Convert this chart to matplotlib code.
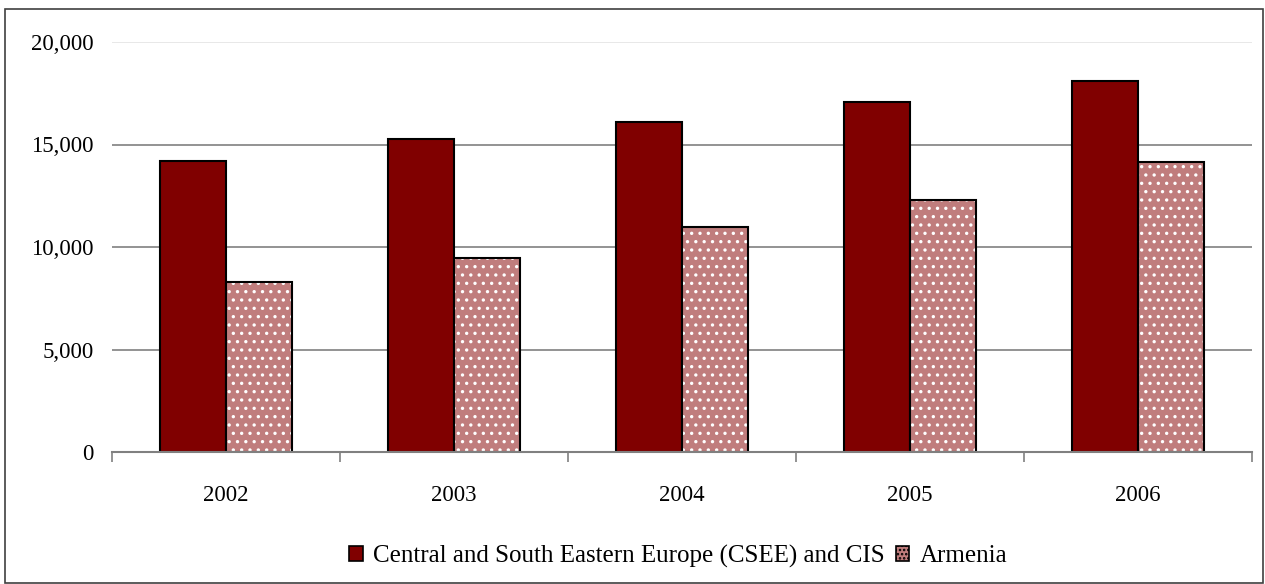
import matplotlib.pyplot as plt
import numpy as np
from matplotlib.patches import Rectangle, Patch

plt.rcParams['font.family'] = ['Liberation Serif', 'DejaVu Serif']
plt.rcParams['hatch.color'] = 'white'
plt.rcParams['hatch.linewidth'] = 1.2

years = ['2002', '2003', '2004', '2005', '2006']
csee_cis = [14200, 15280, 16110, 17050, 18080]
armenia = [8290, 9470, 10990, 12300, 14170]

DARK = '#800000'
PINK = '#c07d7d'

fig = plt.figure(figsize=(12.65, 5.84), dpi=100)
ax = fig.add_axes([112 / 1265, 1 - 452 / 584, (1252 - 112) / 1265, (452 - 42) / 584])

x = np.arange(len(years))
w = 0.29
ax.bar(x - w / 2, csee_cis, w, color=DARK, edgecolor='black', linewidth=1.5, zorder=3)
# patterned series: hatch first, then a black outline on top
ax.bar(x + w / 2, armenia, w, color=PINK, edgecolor='white', linewidth=0, hatch='..', zorder=3)
ax.bar(x + w / 2, armenia, w, color='none', edgecolor='black', linewidth=1.5, zorder=4)

ax.set_ylim(0, 20000)
ax.set_xlim(-0.5, len(years) - 0.5)
ax.set_yticks([0, 5000, 10000, 15000, 20000])
ax.set_yticklabels([f'{v:,}' for v in [0, 5000, 10000, 15000, 20000]], fontsize=16.5)
ax.tick_params(axis='y', length=0, pad=13)

for v in [5000, 10000, 15000]:
    ax.axhline(v, color='#808080', linewidth=1.2, zorder=1)
ax.axhline(20000, color='#e4e4e4', linewidth=1.2, zorder=1)

ax.set_xticks(x)
ax.set_xticklabels(years, fontsize=16.5)
ax.tick_params(axis='x', length=0, pad=24)
ax.set_xticks(np.arange(-0.5, len(years)), minor=True)
ax.tick_params(axis='x', which='minor', length=7, width=1.2, color='#808080', direction='out')

for s in ['top', 'right', 'left']:
    ax.spines[s].set_visible(False)
ax.spines['bottom'].set_color('#808080')
ax.spines['bottom'].set_linewidth(1.5)
ax.spines['bottom'].set_zorder(5)

handles = [
    Patch(facecolor=DARK, edgecolor='black', linewidth=1.2),
    Patch(facecolor=PINK, edgecolor='black', linewidth=1.2, hatch='....'),
]
fig.legend(handles, ['Central and South Eastern Europe (CSEE) and CIS', 'Armenia'],
           loc='center', bbox_to_anchor=(678 / 1265, 1 - 556 / 584), ncol=2, frameon=False,
           fontsize=18, handlelength=0.55, handleheight=0.55, handletextpad=0.4,
           columnspacing=0.45, borderaxespad=0)

fig.patches.append(Rectangle((5 / 1265, 1 / 584), 1258 / 1265, 574 / 584, transform=fig.transFigure,
                             fill=False, edgecolor='#404040', linewidth=1.2))

plt.savefig('out.png', dpi=100)
